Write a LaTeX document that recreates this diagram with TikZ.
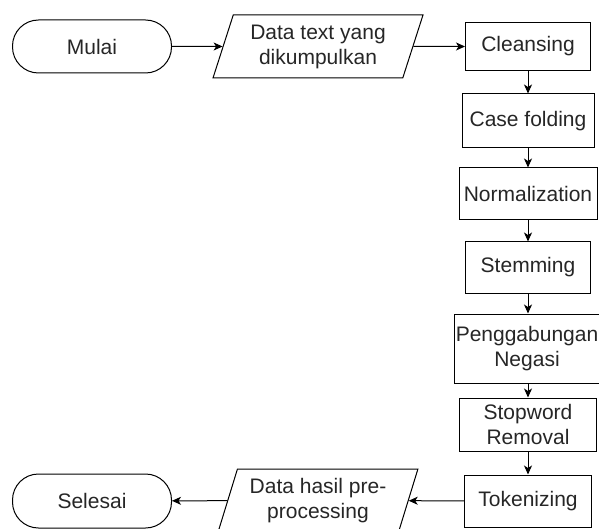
\documentclass[tikz,border=0pt]{standalone}
\usepackage{fontspec}
\setmainfont{Liberation Sans}
\usetikzlibrary{shapes.geometric,arrows.meta}

\tikzset{
  terminal/.style={draw,line width=1pt,rounded corners=26pt,minimum width=159pt,minimum height=53pt},
  process/.style={draw,line width=1pt,inner xsep=1pt,align=center},
  inout/.style={draw,line width=1pt,trapezium,trapezium left angle=72,trapezium right angle=108,
    trapezium stretches=true,minimum width=210pt,minimum height=63pt,align=center,inner xsep=1pt},
  flow/.style={line width=1pt,-{Stealth[length=9pt,width=8pt,inset=2.5pt]}}
}

\begin{document}
\begin{tikzpicture}[x=1pt,y=-1pt,font=\fontsize{21}{25}\selectfont,text=black!85]
					\useasboundingbox (0,0) rectangle (599,529);
					\node[terminal] (mulai) at (92,46.5) {Mulai};
					\node[inout] (datain) at (318,46.5) {Data text yang\\dikumpulkan};
					\node[process,minimum width=125pt,minimum height=48pt] (cleansing) at (528,46.5) {Cleansing};
					\node[process,minimum width=132pt,minimum height=54pt] (casefold) at (528,121) {Case folding};
					\node[process,minimum width=138pt,minimum height=52pt] (normal) at (528,194) {Normalization};
					\node[process,minimum width=125pt,minimum height=51pt] (stemming) at (528,267.5) {Stemming};
					\node[process,minimum width=143pt,minimum height=69pt] (negasi) at (527,348.5) {Penggabungan\\Negasi};
					\node[process,minimum width=137pt,minimum height=53pt] (stopword) at (528,424.5) {Stopword\\Removal};
					\node[process,minimum width=127pt,minimum height=52pt] (token) at (528,501) {Tokenizing};
					\node[inout,minimum width=200pt] (dataout) at (318,500.5) {Data hasil pre-\\processing};
					\node[terminal,minimum height=54pt] (selesai) at (92,501) {Selesai};

					\draw[flow] (mulai) -- (datain);
					\draw[flow] (datain) -- (cleansing);
					\draw[flow] (cleansing) -- (casefold);
					\draw[flow] (casefold) -- (normal);
					\draw[flow] (normal) -- (stemming);
					\draw[flow] (stemming.south) -- (stemming.south |- negasi.north);
					\draw[flow] (negasi.south -| stopword.north) -- (stopword.north);
					\draw[flow] (stopword) -- (token);
					\draw[flow] (token) -- (dataout);
					\draw[flow] (dataout) -- (selesai);
				\end{tikzpicture}
\end{document}
